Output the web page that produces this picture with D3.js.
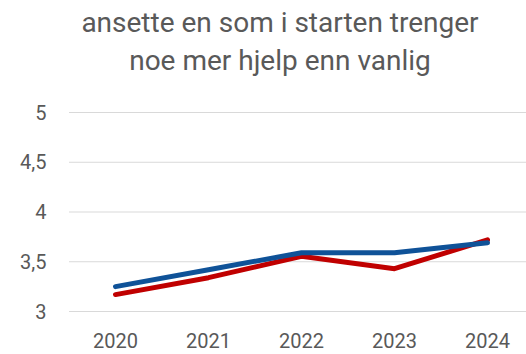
<!DOCTYPE html>
<html>
<head>
<meta charset="utf-8">
<script src="https://cdn.jsdelivr.net/npm/d3@7/dist/d3.min.js"></script>
<style>
  html, body { margin: 0; padding: 0; background: #fff; }
  svg { display: block; }
</style>
</head>
<body>
<script>
const years = ["2020", "2021", "2022", "2023", "2024"];
const blueValues = [3.25, 3.42, 3.59, 3.59, 3.69];
const redValues = [3.17, 3.34, 3.555, 3.43, 3.72];
const yTicks = [3, 3.5, 4, 4.5, 5];
const titleLines = ["ansette en som i starten trenger", "noe mer hjelp enn vanlig"];

const W = 526, H = 354;
const svg = d3.select("body").append("svg").attr("width", W).attr("height", H);
const font = "Roboto, 'Noto Sans', sans-serif";

const x = d3.scaleBand().domain(years).range([69, 534]);
const y = d3.scaleLinear().domain([3, 5]).range([311.5, 112.5]);

// gridlines
svg.append("g")
  .selectAll("line").data(yTicks).join("line")
  .attr("x1", 69).attr("x2", W)
  .attr("y1", d => y(d)).attr("y2", d => y(d))
  .attr("stroke", "#d9d9d9").attr("stroke-width", 1);

// y-axis labels
const fmt = d => String(d).replace(".", ",");
svg.append("g")
  .selectAll("text").data(yTicks).join("text")
  .attr("x", 46.5).attr("y", d => y(d)).attr("dy", "0.36em")
  .attr("text-anchor", "end")
  .attr("font-family", font).attr("font-size", 20).attr("fill", "#595959")
  .text(fmt);

// x-axis labels
svg.append("g")
  .selectAll("text").data(years).join("text")
  .attr("x", d => x(d) + x.bandwidth() / 2).attr("y", 348)
  .attr("text-anchor", "middle")
  .attr("font-family", font).attr("font-size", 20).attr("fill", "#595959")
  .text(d => d);

// series lines
const line = d3.line()
  .x((d, i) => x(years[i]) + x.bandwidth() / 2)
  .y(d => y(d));

[[redValues, "#C00000"], [blueValues, "#0F5298"]].forEach(([vals, col]) => {
  svg.append("path").datum(vals)
    .attr("d", line)
    .attr("fill", "none")
    .attr("stroke", col)
    .attr("stroke-width", 5)
    .attr("stroke-linejoin", "round")
    .attr("stroke-linecap", "round");
});

// title
svg.append("g")
  .selectAll("text").data(titleLines).join("text")
  .attr("x", 280).attr("y", (d, i) => 32 + i * 38)
  .attr("text-anchor", "middle")
  .attr("font-family", font).attr("font-size", 28).attr("fill", "#595959")
  .text(d => d);
</script>
</body>
</html>
